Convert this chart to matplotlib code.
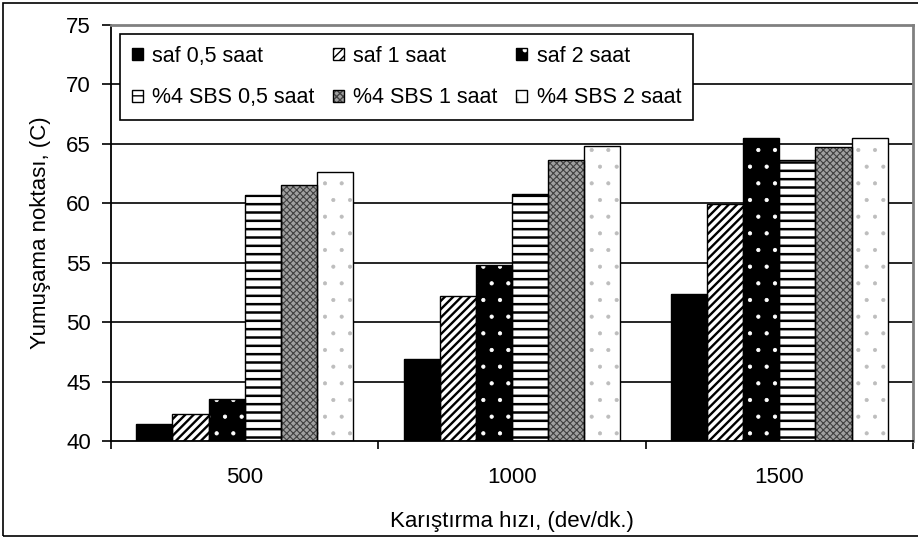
import matplotlib
matplotlib.use("Agg")
import matplotlib.pyplot as plt
import numpy as np
from matplotlib.patches import Patch, Rectangle

categories = ["500", "1000", "1500"]
series_names = ["saf 0,5 saat", "saf 1 saat", "saf 2 saat",
                "%4 SBS 0,5 saat", "%4 SBS 1 saat", "%4 SBS 2 saat"]
saf_05 = [41.4, 46.9, 52.4]
saf_1 = [42.3, 52.2, 59.9]
saf_2 = [43.5, 54.8, 65.5]
sbs_05 = [60.7, 60.8, 63.6]
sbs_1 = [61.5, 63.6, 64.7]
sbs_2 = [62.6, 64.8, 65.5]
series_values = [saf_05, saf_1, saf_2, sbs_05, sbs_1, sbs_2]
y_ticks = [40, 45, 50, 55, 60, 65, 70, 75]

# styles: (facecolor, hatchcolor, hatch, hatch linewidth)
styles = [
    ("black", "black", None, 1.0),
    ("white", "black", "////", 1.7),
    ("black", "white", ".", 0.6),
    ("white", "black", "--", 1.8),
    ("#a0a0a0", "#404040", "xxxxx", 0.8),
    ("white", "#bdbdbd", ".", 0.5),
]

plt.rcParams['font.family'] = ['Liberation Sans', 'DejaVu Sans']

fig = plt.figure(figsize=(9.18, 5.37), dpi=100)
ax = fig.add_axes([111/918, 1 - 441/537, 802/918, 416/537])

x = np.arange(len(categories))
w = 0.135
n = len(series_values)
handles = []


def set_hlw(artist, lw):
    if hasattr(artist, "set_hatch_linewidth"):
        artist.set_hatch_linewidth(lw)


for i, (vals, (fc, hc, h, hlw)) in enumerate(zip(series_values, styles)):
    pos = x + (i - (n - 1) / 2) * w
    with plt.rc_context({'hatch.linewidth': hlw}):
        bars = ax.bar(pos, np.array(vals) - 40, w, bottom=40, facecolor=fc,
                      edgecolor=hc, hatch=h, linewidth=0, zorder=2)
        for b in bars:
            set_hlw(b, hlw)
        p1 = Patch(facecolor=fc, edgecolor=hc, hatch=h, linewidth=0)
        set_hlw(p1, hlw)
    ax.bar(pos, np.array(vals) - 40, w, bottom=40, fill=False, edgecolor="black",
           linewidth=1.0, zorder=3)
    p2 = Patch(fill=False, edgecolor="black", linewidth=1.0)
    handles.append((p1, p2))

ax.set_xlim(-0.5, 2.5)
ax.set_ylim(40, 75)
ax.set_yticks(y_ticks)
ax.set_xticks(x)
ax.set_xticklabels(categories)
ax.set_xticks([-0.5, 0.5, 1.5, 2.5], minor=True)
ax.tick_params(axis='x', which='major', length=0, pad=19, labelsize=16)
ax.tick_params(axis='x', which='minor', length=6, width=1.2, direction='out')
ax.tick_params(axis='y', length=6.5, width=1.2, direction='out', labelsize=16, pad=8)

for yv in y_ticks[1:-1]:
    ax.axhline(yv, color='black', linewidth=1.2, zorder=1)

ax.spines['left'].set_linewidth(1.3)
ax.spines['bottom'].set_linewidth(1.3)
ax.spines['top'].set_color('#808080')
ax.spines['top'].set_linewidth(2)
ax.spines['right'].set_color('#808080')
ax.spines['right'].set_linewidth(2)

ax.set_xlabel("Karıştırma hızı, (dev/dk.)", fontsize=16, labelpad=16)
ax.set_ylabel("Yumuşama noktası, (C)", fontsize=16, labelpad=11)

# row-wise order like the reference (matplotlib fills legends column-wise)
order = [0, 3, 1, 4, 2, 5]
leg = ax.legend([handles[k] for k in order], [series_names[k] for k in order],
                ncol=3, loc='upper left',
                bbox_to_anchor=(0.0112, 0.978), fontsize=15.5,
                frameon=True, fancybox=False, edgecolor='black',
                framealpha=1, handlelength=0.5, handleheight=0.5,
                handletextpad=0.45, columnspacing=0.85, borderpad=0.55,
                labelspacing=0.95, borderaxespad=0)
leg.get_frame().set_linewidth(1.2)
leg.set_zorder(5)

fig.patches.append(Rectangle((3/918, 1/537), 1.0, 533/537, transform=fig.transFigure,
                             fill=False, edgecolor='black', linewidth=1.2))

fig.savefig("out.png", dpi=100)
